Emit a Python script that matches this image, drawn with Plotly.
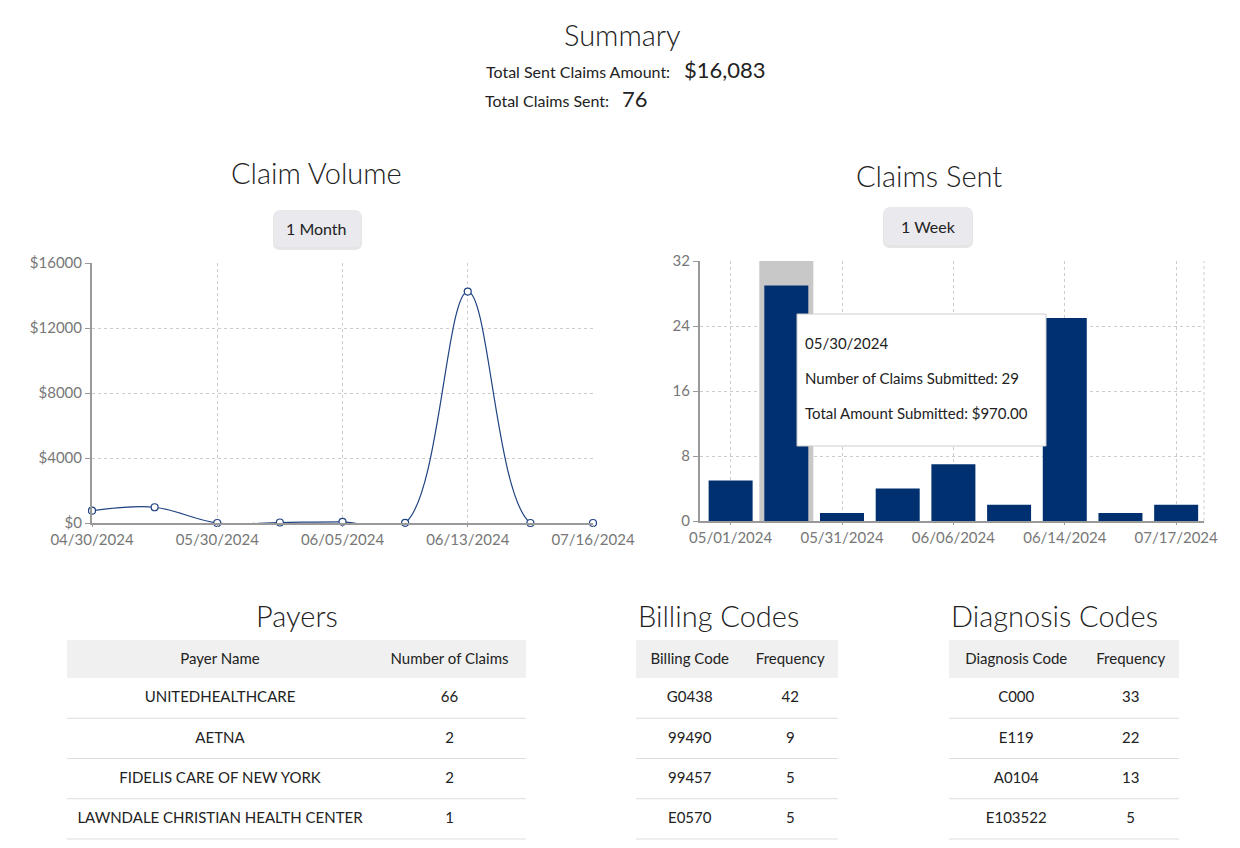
import plotly.graph_objects as go

W, H = 1240, 848
FONT = "Lato"
NAVY = "#003070"
LINE_NAVY = "#1f4482"
CLEAR = "rgba(0,0,0,0)"

# ---- data ----
vol_dates = ["04/30/2024", "05/15/2024", "05/30/2024", "06/03/2024", "06/05/2024",
             "06/10/2024", "06/13/2024", "06/20/2024", "07/16/2024"]
vol_amounts = [760, 970, 0, 30, 70, 10, 14243, 0, 0]
vol_tick_labels = ["04/30/2024", "05/30/2024", "06/05/2024", "06/13/2024", "07/16/2024"]
vol_y_ticks = [0, 4000, 8000, 12000, 16000]

sent_dates = ["05/01/2024", "05/30/2024", "05/31/2024", "06/03/2024", "06/06/2024",
              "06/10/2024", "06/14/2024", "06/20/2024", "07/17/2024"]
sent_counts = [5, 29, 1, 4, 7, 2, 25, 1, 2]
sent_tick_labels = ["05/01/2024", "05/31/2024", "06/06/2024", "06/14/2024", "07/17/2024"]
sent_y_ticks = [0, 8, 16, 24, 32]
hover_index = 1
hover_amount = 970.00

payer_names = ["UNITEDHEALTHCARE", "AETNA", "FIDELIS CARE OF NEW YORK",
               "LAWNDALE CHRISTIAN HEALTH CENTER"]
payer_claims = [66, 2, 2, 1]
billing_codes = ["G0438", "99490", "99457", "E0570"]
billing_freq = [42, 9, 5, 5]
diag_codes = ["C000", "E119", "A0104", "E103522"]
diag_freq = [33, 22, 13, 5]

total_amount = sum(vol_amounts)
total_claims = sum(sent_counts)


def fx(px):
    return px / W


def fy(py):
    return 1 - py / H


fig = go.Figure()

# ---- line chart ----
fig.add_trace(go.Scatter(
    x=vol_dates, y=vol_amounts, mode="lines+markers",
    line=dict(color=LINE_NAVY, width=1.2, shape="spline", smoothing=1),
    marker=dict(size=7, color="white", line=dict(color=LINE_NAVY, width=1.2)),
    cliponaxis=False, xaxis="x", yaxis="y", showlegend=False, hoverinfo="skip"))

# ---- bar chart ----
fig.add_trace(go.Bar(
    x=sent_dates, y=sent_counts, marker=dict(color=NAVY, line=dict(width=0)),
    xaxis="x2", yaxis="y2", showlegend=False, hoverinfo="skip"))

shapes = []

# ---- tables ----
TABLE_TOP, HEADER_H, ROW_H = 640, 38, 40.25


def add_table(x0, x1, headers, cols, widths):
    nrows = len(cols[0])
    bottom = TABLE_TOP + HEADER_H + ROW_H * nrows
    shapes.append(dict(type="rect", xref="paper", yref="paper", layer="below",
                       x0=fx(x0), x1=fx(x1), y0=fy(TABLE_TOP + HEADER_H), y1=fy(TABLE_TOP),
                       fillcolor="#f0f0f0", line=dict(width=0)))
    for i in range(1, nrows + 1):
        py = TABLE_TOP + HEADER_H + ROW_H * i
        shapes.append(dict(type="line", xref="paper", yref="paper",
                           x0=fx(x0), x1=fx(x1), y0=fy(py), y1=fy(py),
                           line=dict(color="#dddddd", width=1)))
    fig.add_trace(go.Table(
        domain=dict(x=[fx(x0), fx(x1)], y=[fy(min(bottom + 8, H)), fy(TABLE_TOP + 5)]),
        columnwidth=widths,
        header=dict(values=headers, fill_color=CLEAR, line_color=CLEAR,
                    align="center", height=HEADER_H,
                    font=dict(family=FONT, size=15, color="#222")),
        cells=dict(values=cols, fill_color=CLEAR, line_color=CLEAR,
                   align="center", height=ROW_H,
                   font=dict(family=FONT, size=15, color="#222"))))


add_table(67, 526, ["Payer Name", "Number of Claims"],
          [payer_names, payer_claims], [306, 153])
add_table(636, 838, ["Billing Code", "Frequency"],
          [billing_codes, billing_freq], [108, 94])
add_table(949, 1179, ["Diagnosis Code", "Frequency"],
          [diag_codes, diag_freq], [135, 95])

# bar chart hover band + right border
shapes.append(dict(type="rect", xref="x2", yref="paper", layer="below",
                   x0=hover_index - 0.485, x1=hover_index + 0.485,
                   y0=fy(521), y1=fy(261),
                   fillcolor="#c8c8c8", line=dict(width=0)))
shapes.append(dict(type="line", xref="paper", yref="paper",
                   x0=fx(1204), x1=fx(1204), y0=fy(521), y1=fy(261),
                   line=dict(color="#cccccc", width=1, dash="3px,3px"), layer="below"))


def rounded(x0, y0, x1, y1, r):
    return (f"M {fx(x0 + r)},{fy(y0)} L {fx(x1 - r)},{fy(y0)} "
            f"Q {fx(x1)},{fy(y0)} {fx(x1)},{fy(y0 + r)} L {fx(x1)},{fy(y1 - r)} "
            f"Q {fx(x1)},{fy(y1)} {fx(x1 - r)},{fy(y1)} L {fx(x0 + r)},{fy(y1)} "
            f"Q {fx(x0)},{fy(y1)} {fx(x0)},{fy(y1 - r)} L {fx(x0)},{fy(y0 + r)} "
            f"Q {fx(x0)},{fy(y0)} {fx(x0 + r)},{fy(y0)} Z")


for (x0, y0, x1, y1) in [(274, 210, 361, 247), (884, 207, 972, 245)]:
    shapes.append(dict(type="path", xref="paper", yref="paper",
                       path=rounded(x0 - 1, y0 + 1, x1 + 1, y1 + 3, 7),
                       fillcolor="rgba(0,0,0,0.10)", line=dict(width=0)))
    shapes.append(dict(type="path", xref="paper", yref="paper",
                       path=rounded(x0, y0, x1, y1, 6),
                       fillcolor="#e9e9ee", line=dict(width=0)))

# tooltip box
shapes.append(dict(type="rect", xref="paper", yref="paper",
                   x0=fx(797), x1=fx(1046), y0=fy(446), y1=fy(314),
                   fillcolor="white", line=dict(color="#cccccc", width=1)))

annotations = []


def text(px, py, s, size, anchor="center", color="#222", weight=400):
    annotations.append(dict(x=fx(px), y=fy(py), xref="paper", yref="paper",
                            text=s, showarrow=False, xanchor=anchor, yanchor="middle",
                            font=dict(family=FONT, size=size, color=color, weight=weight)))


text(622, 34, "Summary", 29, weight=300)
text(672, 71, "Total Sent Claims Amount:", 16, "right")
text(682, 70, f"${total_amount:,}", 22, "left")
text(611, 100, "Total Claims Sent:", 16, "right")
text(620, 99, f"{total_claims}", 22, "left")
text(317, 173, "Claim Volume", 29, weight=300)
text(929, 175, "Claims Sent", 29, weight=300)
text(317, 228, "1 Month", 16)
text(928, 226, "1 Week", 16)
text(297, 615, "Payers", 29, weight=300)
text(636, 615, "Billing Codes", 29, "left", weight=300)
text(949, 615, "Diagnosis Codes", 29, "left", weight=300)

tip = [sent_dates[hover_index],
       f"Number of Claims Submitted: {sent_counts[hover_index]}",
       f"Total Amount Submitted: ${hover_amount:,.2f}"]
for i, s in enumerate(tip):
    text(803, 343 + 35 * i, s, 15, "left")

axis_common = dict(showline=True, linecolor="#999999", linewidth=2,
                   ticks="outside", tickcolor="#999999", automargin=False,
                   tickfont=dict(family=FONT, size=15, color="#777777"),
                   showgrid=True, gridcolor="#cccccc", griddash="3px,3px",
                   gridwidth=1, zeroline=False, fixedrange=True)

fig.update_layout(
    width=W, height=H, margin=dict(l=0, r=0, t=0, b=0, pad=0, autoexpand=False),
    paper_bgcolor="white", plot_bgcolor="white",
    font=dict(family=FONT, color="#222"),
    bargap=0.21,
    xaxis=dict(domain=[fx(92), fx(593)], anchor="y", type="category",
               range=[0, len(vol_dates) - 1], tickmode="array", ticklen=2,
               tickvals=vol_tick_labels, ticktext=vol_tick_labels, **axis_common),
    yaxis=dict(domain=[fy(523), fy(263)], anchor="x", range=[0, 16000],
               tickmode="array", tickvals=vol_y_ticks, ticklen=5,
               ticktext=[f"${v}" for v in vol_y_ticks], **axis_common),
    xaxis2=dict(domain=[fx(700), fx(1204)], anchor="y2", type="category",
                range=[-0.55, len(sent_dates) - 0.5], tickmode="array", ticklen=2,
                tickvals=sent_tick_labels, ticktext=sent_tick_labels, **axis_common),
    yaxis2=dict(domain=[fy(521), fy(261)], anchor="x2", range=[0, 32],
                tickmode="array", tickvals=sent_y_ticks, ticklen=5, **axis_common),
    shapes=shapes, annotations=annotations,
)

fig.write_html("out.html", config={"displayModeBar": False})
